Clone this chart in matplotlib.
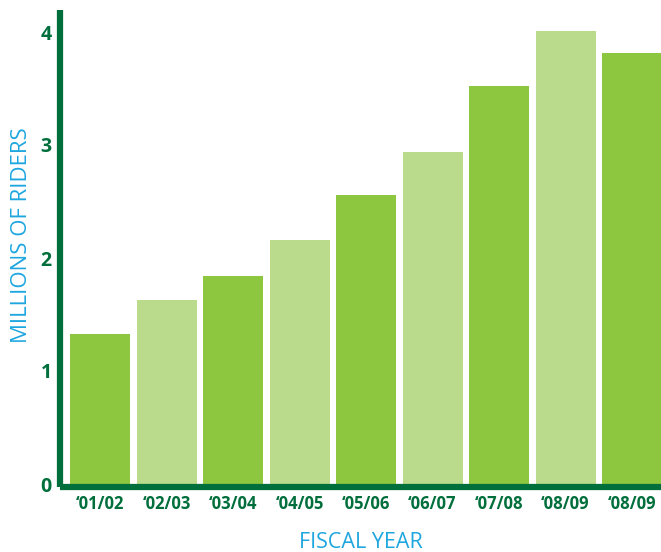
import matplotlib
matplotlib.use("Agg")
import matplotlib.pyplot as plt

categories = ["\u201801/02", "\u201802/03", "\u201803/04", "\u201804/05", "\u201805/06",
              "\u201806/07", "\u201807/08", "\u201808/09", "\u201808/09"]
riders = [1.33, 1.63, 1.84, 2.16, 2.56, 2.94, 3.52, 4.01, 3.81]
y_ticks = [0, 1, 2, 3, 4]
y_tick_labels = ["0", "1", "2", "3", "4"]

dark_bar = "#8dc63f"
light_bar = "#badb8c"
axis_green = "#006f3c"
label_blue = "#1ea6df"
colors = [dark_bar if i % 2 == 0 else light_bar for i in range(len(riders))]

W, H = 661, 552
fig = plt.figure(figsize=(W / 100, H / 100), dpi=100)
left_px, right_px, bottom_px, top_px = 60, 661, 487, 10
ax = fig.add_axes([left_px / W, 1 - bottom_px / H, (right_px - left_px) / W, (bottom_px - top_px) / H])

x = list(range(len(riders)))
ax.bar(x, riders, width=60 / 66.5, color=colors, zorder=2)

ax.set_xlim(-40 / 66.5, (661 - 100) / 66.5)
ax.set_ylim(-3 / 113, (484 - 10) / 113)

for s in ["top", "right"]:
    ax.spines[s].set_visible(False)
for s in ["left", "bottom"]:
    ax.spines[s].set_color(axis_green)
    ax.spines[s].set_linewidth(4.5)
    ax.spines[s].set_capstyle("butt")

ax.set_yticks(y_ticks)
ax.set_yticklabels(y_tick_labels, fontfamily="Open Sans", fontweight="bold",
                   fontsize=14, color=axis_green)
ax.set_xticks(x)
ax.set_xticklabels(categories, fontfamily="Open Sans", fontweight="bold",
                   fontsize=12, color=axis_green)
ax.tick_params(axis="both", length=0)
ax.tick_params(axis="y", pad=6)
ax.tick_params(axis="x", pad=6)

fig.text(22 / W, 1 - 235 / H, "MILLIONS OF RIDERS", rotation=90, ha="center", va="center",
         fontfamily="Open Sans", fontsize=16, color=label_blue)
fig.text(361 / W, 1 - 543 / H, "FISCAL YEAR", ha="center", va="center",
         fontfamily="Open Sans", fontsize=15.5, color=label_blue)

fig.savefig("out.png", dpi=100)
